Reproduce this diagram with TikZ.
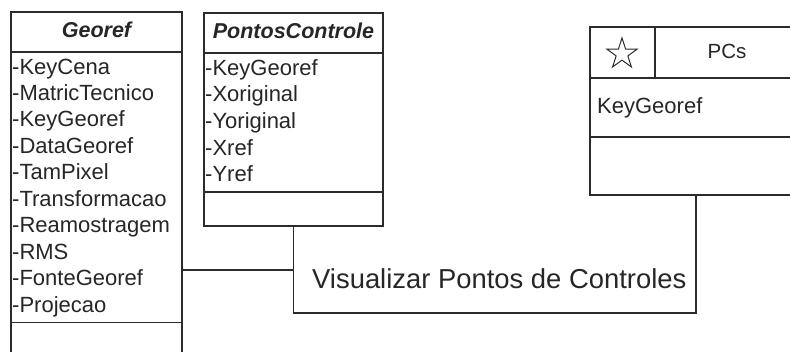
\documentclass[tikz,border=0pt]{standalone}
\usepackage{fontspec}
\setmainfont{Liberation Sans}
\usetikzlibrary{shapes.geometric}
\definecolor{ln}{HTML}{2B2B2B}
\definecolor{tx}{HTML}{262626}
\begin{document}
\begin{tikzpicture}[x=1pt,y=-1pt,
  box/.style={draw=ln, line width=1.6pt, inner sep=0pt, outer sep=0pt, anchor=north west},
  attr/.style={anchor=base west, inner sep=0pt, font=\fontsize{22}{22}\selectfont, text=tx},
  ttl/.style={anchor=base, inner sep=0pt, font=\fontsize{21.5}{21.5}\selectfont\bfseries\itshape, text=tx},
  sep/.style={draw=ln, line width=1.6pt},
  conn/.style={draw=ln, line width=1.6pt}]
\useasboundingbox (0,0) rectangle (790,351);
\clip (0,0) rectangle (790,351);
\fill[white] (0,0) rectangle (790,351);

% Georef class
\node[box, minimum width=171pt, minimum height=348pt] (georef) at (11,12) {};
\draw[sep] (11,52) -- (182,52);
\draw[sep] (11,322.5) -- (182,322.5);
\node[ttl] (gt) at (96.5,37) {Georef};
\foreach \t [count=\i] in {KeyCena,MatricTecnico,KeyGeoref,DataGeoref,TamPixel,Transformacao,Reamostragem,RMS,FonteGeoref,Projecao}
  \node[attr] (g\i) at (12,{74+26.45*(\i-1)}) {-\t};

% PontosControle class
\node[box, minimum width=179pt, minimum height=213pt] (pc) at (204,13) {};
\draw[sep] (204,53) -- (383,53);
\draw[sep] (204,192) -- (383,192);
\node[ttl] (pt) at (293.5,38) {PontosControle};
\foreach \t [count=\i] in {KeyGeoref,Xoriginal,Yoriginal,Xref,Yref}
  \node[attr] (p\i) at (205,{75+26.7*(\i-1)}) {-\t};

% PCs table
\node[box, minimum width=209pt, minimum height=168pt] (pcs) at (590,27) {};
\draw[sep] (590,78) -- (799,78);
\draw[sep] (655,27) -- (655,78);
\draw[sep] (590,137) -- (799,137);
\node[star, star points=5, star point ratio=2.6, draw=ln, line width=1pt, minimum size=32pt, inner sep=0pt] (star) at (622,54) {};
\node[anchor=base, inner sep=0pt, font=\fontsize{20.5}{20.5}\selectfont, text=tx] (pcst) at (727,58) {PCs};
\node[attr] (pk) at (597,113) {KeyGeoref};

% connectors
\coordinate (j) at (293.5,270);
\coordinate (c1) at (293.5,313);
\coordinate (c2) at (696,313);
\draw[conn] (pc.south) -- (c1) -- (c2) -- (pcs.south -| c2);
\draw[conn] (georef.east |- j) -- (j);
\node[anchor=base west, inner sep=0pt, font=\fontsize{27.4}{27.4}\selectfont, text=tx] (lbl) at (312,288) {Visualizar Pontos de Controles};
\end{tikzpicture}
\end{document}
